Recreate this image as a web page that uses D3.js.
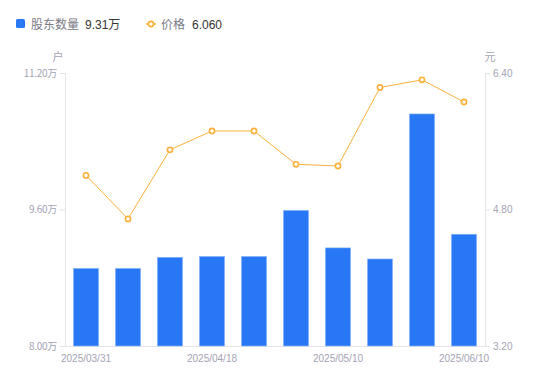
<!DOCTYPE html>
<html>
<head>
<meta charset="utf-8">
<script src="https://cdn.jsdelivr.net/npm/d3@7"></script>
<style>
  html, body { margin: 0; padding: 0; background: #fff; }
  svg { display: block; font-family: "Noto Sans CJK SC", "Liberation Sans", sans-serif; }
</style>
</head>
<body>
<svg id="chart" width="550" height="381"></svg>
<script>
const dates = ['2025/03/31', '2025/04/10', '2025/04/15', '2025/04/18', '2025/04/25',
               '2025/04/30', '2025/05/10', '2025/05/20', '2025/05/30', '2025/06/10'];
const holders = [8.91, 8.91, 9.04, 9.05, 9.05, 9.59, 9.15, 9.02, 10.72, 9.31]; // 万户
const prices = [5.20, 4.69, 5.50, 5.72, 5.72, 5.33, 5.31, 6.23, 6.32, 6.06];    // 元
const leftTicks = [8.00, 9.60, 11.20];
const rightTicks = [3.20, 4.80, 6.40];

const svg = d3.select('#chart');
const margin = { top: 73, right: 65, bottom: 35, left: 65 };
const W = 550, H = 381;

const x = d3.scaleBand().domain(dates).range([margin.left, W - margin.right]).paddingInner(0.4).paddingOuter(0.2);
const yL = d3.scaleLinear().domain([8.0, 11.2]).range([H - margin.bottom, margin.top]);
const yR = d3.scaleLinear().domain([3.2, 6.4]).range([H - margin.bottom, margin.top]);

const axisColor = '#e3e3e8', labelColor = '#a3a3b5';
const blue = '#2878f5', orange = '#fbb03b';
const latin = '"Liberation Sans", "Noto Sans CJK SC", sans-serif';

// axes
const gL = svg.append('g')
    .attr('transform', `translate(${margin.left},0)`)
    .call(d3.axisLeft(yL).tickValues(leftTicks).tickSize(5).tickPadding(3).tickFormat(d => d3.format('.2f')(d) + '万'));
const gR = svg.append('g')
    .attr('transform', `translate(${W - margin.right},0)`)
    .call(d3.axisRight(yR).tickValues(rightTicks).tickSize(5).tickPadding(3).tickFormat(d3.format('.2f')));
const gB = svg.append('g')
    .attr('transform', `translate(0,${H - margin.bottom})`)
    .call(d3.axisBottom(x).tickValues(dates.filter((d, i) => i % 3 === 0)).tickSize(0).tickPadding(9));

[gL, gR, gB].forEach(g => {
    g.select('.domain').attr('stroke', axisColor);
    g.selectAll('.tick line').attr('stroke', axisColor);
    g.selectAll('.tick text').attr('fill', labelColor).attr('font-size', 10).attr('font-family', latin);
});
gL.selectAll('.tick text').attr('font-family', '"Noto Sans CJK SC", sans-serif').attr('letter-spacing', -0.3);
gB.select('.domain').attr('d', `M${margin.left},0.5H${W - margin.right}`);

// units
svg.append('text').attr('x', 58).attr('y', 61).attr('text-anchor', 'middle')
    .attr('fill', labelColor).attr('font-size', 11).text('户');
svg.append('text').attr('x', 490).attr('y', 61).attr('text-anchor', 'middle')
    .attr('fill', labelColor).attr('font-size', 11).text('元');

// bars
svg.append('g').selectAll('rect')
    .data(holders)
    .join('rect')
    .attr('x', (d, i) => x(dates[i]))
    .attr('y', d => yL(d))
    .attr('width', x.bandwidth())
    .attr('height', d => yL(8.0) - yL(d))
    .attr('fill', blue)
    .attr('stroke', '#8fb8f8')
    .attr('stroke-width', 0.6);

// price line
const cx = (d, i) => x(dates[i]) + x.bandwidth() / 2;
svg.append('path')
    .datum(prices)
    .attr('fill', 'none')
    .attr('stroke', orange)
    .attr('stroke-width', 1)
    .attr('d', d3.line().x(cx).y(d => yR(d)));
svg.append('g').selectAll('circle')
    .data(prices)
    .join('circle')
    .attr('cx', cx)
    .attr('cy', d => yR(d))
    .attr('r', 2.6)
    .attr('fill', '#fff')
    .attr('stroke', orange)
    .attr('stroke-width', 1.6);

// legend
const lg = svg.append('g').attr('font-size', 12);
lg.append('rect').attr('x', 16).attr('y', 19).attr('width', 9).attr('height', 9).attr('rx', 1.5).attr('fill', blue);
lg.append('text').attr('x', 31).attr('y', 28.5).attr('fill', '#7a7a85').text('股东数量');
lg.append('text').attr('x', 85).attr('y', 28.5).attr('fill', '#333').attr('font-family', latin)
    .text(d3.format('.2f')(holders[holders.length - 1]) + '万');
lg.append('line').attr('x1', 146).attr('x2', 156).attr('y1', 24).attr('y2', 24).attr('stroke', orange).attr('stroke-width', 1.5);
lg.append('circle').attr('cx', 151).attr('cy', 24).attr('r', 2.6).attr('fill', '#fff').attr('stroke', orange).attr('stroke-width', 1.6);
lg.append('text').attr('x', 161).attr('y', 28.5).attr('fill', '#7a7a85').text('价格');
lg.append('text').attr('x', 192).attr('y', 28.5).attr('fill', '#333').attr('font-family', latin)
    .text(d3.format('.3f')(prices[prices.length - 1]));
</script>
</body>
</html>
